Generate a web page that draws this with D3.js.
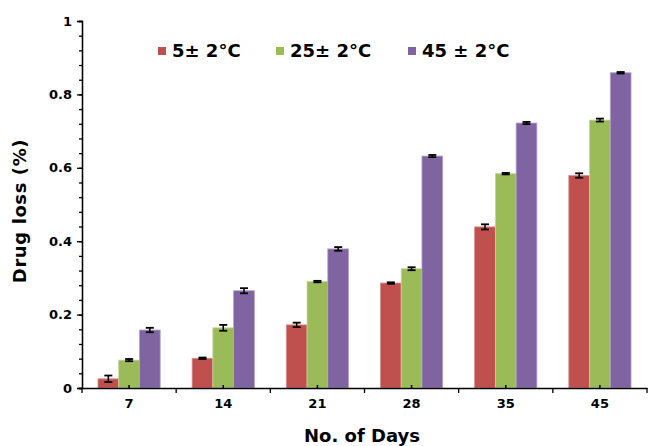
<!DOCTYPE html>
<html lang="en">
<head>
<meta charset="UTF-8">
<title>Drug loss</title>
<script src="https://cdn.jsdelivr.net/npm/d3@7/dist/d3.min.js"></script>
<style>
  body { margin: 0; background: #fff; }
  svg text { font-family: "DejaVu Sans", Verdana, sans-serif; font-weight: bold; fill: #000; }
</style>
</head>
<body>
<div id="chart"></div>
<script>
// data
const days = ["7", "14", "21", "28", "35", "45"];
const series = ["5± 2°C", "25± 2°C", "45 ± 2°C"];
const colors = ["#C0504D", "#9BBB59", "#8064A2"];
const edges = ["#D9908E", "#C3D89B", "#B3A2C7"];
const loss5 = [0.025, 0.081, 0.172, 0.286, 0.439, 0.579];
const loss25 = [0.076, 0.164, 0.290, 0.325, 0.584, 0.730];
const loss45 = [0.158, 0.265, 0.379, 0.632, 0.722, 0.859];
const err5 = [0.009, 0.002, 0.006, 0.002, 0.007, 0.006];
const err25 = [0.003, 0.008, 0.002, 0.004, 0.002, 0.004];
const err45 = [0.006, 0.007, 0.005, 0.003, 0.003, 0.002];
const yMajor = [0, 0.2, 0.4, 0.6, 0.8, 1];

const values = [loss5, loss25, loss45];
const errors = [err5, err25, err45];

const W = 648, H = 446;
const plotL = 82, plotR = 647, plotT = 21, plotB = 388;

const svg = d3.select("#chart").append("svg")
  .attr("width", W).attr("height", H);

const y = d3.scaleLinear().domain([0, 1]).range([plotB, plotT]);
const x0 = d3.scaleBand().domain(days).range([plotL, plotR]).padding(0);
const x1 = d3.scaleBand().domain(series).range([0, x0.bandwidth()])
  .paddingInner(0).paddingOuter(0.77);

// bars + error bars
const rows = [];
days.forEach((d, i) => {
  series.forEach((s, j) => {
    rows.push({day: d, s: s, j: j, v: values[j][i], e: errors[j][i]});
  });
});

svg.selectAll("rect.bar")
  .data(rows)
  .join("rect")
    .attr("class", "bar")
    .attr("x", d => x0(d.day) + x1(d.s))
    .attr("y", d => y(d.v))
    .attr("width", x1.bandwidth())
    .attr("height", d => y(0) - y(d.v))
    .attr("fill", d => colors[d.j])
    .attr("stroke", d => edges[d.j])
    .attr("stroke-width", 0.8);

const eb = svg.append("g").attr("stroke", "#000");
rows.forEach(d => {
  const cx = x0(d.day) + x1(d.s) + x1.bandwidth() / 2;
  eb.append("line")
    .attr("x1", cx).attr("x2", cx)
    .attr("y1", y(d.v - d.e)).attr("y2", y(d.v + d.e))
    .attr("stroke-width", 1.5);
  [d.v - d.e, d.v + d.e].forEach(t => {
    eb.append("line")
      .attr("x1", cx - 4).attr("x2", cx + 4)
      .attr("y1", y(t)).attr("y2", y(t))
      .attr("stroke-width", 1.8);
  });
});

// y axis
const minor = d3.range(0, 1.0001, 0.04);
svg.append("g")
  .attr("transform", `translate(${plotL},0)`)
  .call(d3.axisLeft(y).tickValues(minor).tickSize(3).tickFormat(""))
  .call(g => g.selectAll("line, path").attr("stroke", "#000").attr("stroke-width", 1.3));
svg.append("g")
  .attr("transform", `translate(${plotL},0)`)
  .call(d3.axisLeft(y).tickValues(yMajor).tickSize(5).tickPadding(5)
    .tickFormat(d => d3.format("")(+d.toFixed(1))))
  .call(g => g.selectAll("line, path").attr("stroke", "#000").attr("stroke-width", 1.3))
  .call(g => g.selectAll("text").attr("font-size", 13));

// x axis: labels with short inner ticks at centres, boundary ticks below
const xa = svg.append("g")
  .attr("transform", `translate(0,${plotB})`)
  .call(d3.axisBottom(x0).tickSizeInner(-3).tickSizeOuter(0).tickPadding(11))
  .call(g => g.selectAll("line, path").attr("stroke", "#000").attr("stroke-width", 1.5))
  .call(g => g.selectAll("text").attr("font-size", 13));
xa.selectAll("line.bound")
  .data(days.map(d => x0(d)).concat([plotR]))
  .join("line")
    .attr("class", "bound")
    .attr("x1", d => d).attr("x2", d => d)
    .attr("y1", 0).attr("y2", 5)
    .attr("stroke", "#000").attr("stroke-width", 1.3);

// axis titles
svg.append("text")
  .attr("x", 362).attr("y", 442)
  .attr("text-anchor", "middle")
  .attr("font-size", 18)
  .text("No. of Days");
svg.append("text")
  .attr("transform", "translate(26,211) rotate(-90)")
  .attr("text-anchor", "middle")
  .attr("font-size", 18)
  .attr("letter-spacing", 0.6)
  .text("Drug loss (%)");

// legend
const legX = [158, 276, 408];
const leg = svg.append("g");
series.forEach((s, j) => {
  leg.append("rect")
    .attr("x", legX[j]).attr("y", 47)
    .attr("width", 8).attr("height", 8)
    .attr("fill", colors[j]);
  leg.append("text")
    .attr("x", legX[j] + 14).attr("y", 57)
    .attr("font-size", 18)
    .text(s);
});
</script>
</body>
</html>
